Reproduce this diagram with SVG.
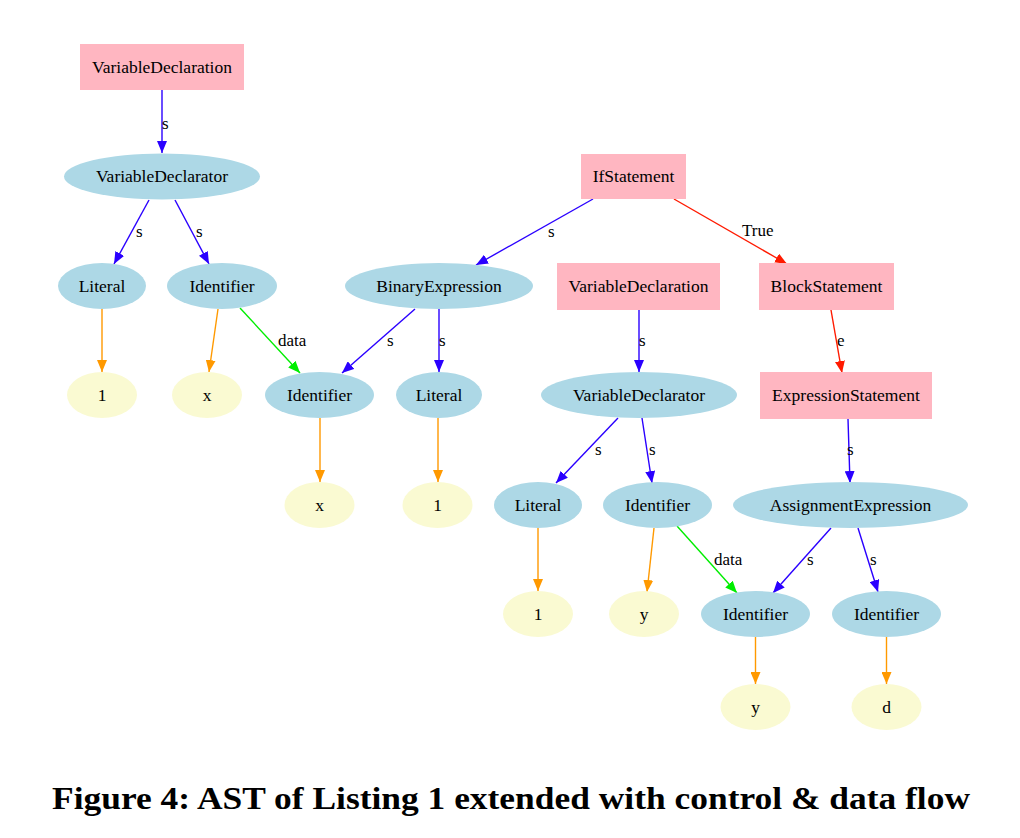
<svg xmlns="http://www.w3.org/2000/svg" width="1020" height="838" viewBox="0 0 1020 838">
<style>
.rect{fill:#ffb6c1}
.ell{fill:#add8e6}
.leaf{fill:#fafad2}
.t{font-family:"Liberation Serif","Times New Roman",serif;font-size:17.5px;fill:#000;text-anchor:middle}
.lb{font-family:"Liberation Serif","Times New Roman",serif;font-size:17px;fill:#000}
.e{fill:none;stroke-width:1.4}
.b{stroke:#2a00ff;marker-end:url(#ab)}
.o{stroke:#ff9900;marker-end:url(#ao)}
.g{stroke:#00ee00;marker-end:url(#ag)}
.r{stroke:#ff1a00;marker-end:url(#ar)}
.cap{font-family:"Liberation Serif","Times New Roman",serif;font-size:31px;font-weight:bold;fill:#000}
</style>
<defs>
<marker id="ab" markerUnits="userSpaceOnUse" markerWidth="12" markerHeight="10" refX="12" refY="5" orient="auto"><path d="M0,0 L12,5 L0,10 z" fill="#2a00ff"/></marker>
<marker id="ao" markerUnits="userSpaceOnUse" markerWidth="12" markerHeight="10" refX="12" refY="5" orient="auto"><path d="M0,0 L12,5 L0,10 z" fill="#ff9900"/></marker>
<marker id="ag" markerUnits="userSpaceOnUse" markerWidth="12" markerHeight="10" refX="12" refY="5" orient="auto"><path d="M0,0 L12,5 L0,10 z" fill="#00ee00"/></marker>
<marker id="ar" markerUnits="userSpaceOnUse" markerWidth="12" markerHeight="10" refX="12" refY="5" orient="auto"><path d="M0,0 L12,5 L0,10 z" fill="#ff1a00"/></marker>
</defs>
<rect width="1020" height="838" fill="#ffffff"/>
<g id="edges">
<line class="e b" x1="162" y1="90" x2="162" y2="153"/><text class="lb" x="162" y="129">s</text>
<line class="e b" x1="149" y1="200" x2="114" y2="264"/><text class="lb" x="136" y="237">s</text>
<line class="e b" x1="175" y1="200" x2="209" y2="264"/><text class="lb" x="196" y="237">s</text>
<line class="e o" x1="102" y1="309" x2="102" y2="372"/>
<line class="e o" x1="218" y1="309" x2="209" y2="372"/>
<line class="e g" x1="240" y1="308" x2="300" y2="373"/><text class="lb" x="278" y="346">data</text>
<line class="e b" x1="593" y1="199" x2="476" y2="265"/><text class="lb" x="548" y="237">s</text>
<line class="e r" x1="674" y1="199" x2="787" y2="264"/><text class="lb" x="742" y="236">True</text>
<line class="e b" x1="415" y1="309" x2="342" y2="373"/><text class="lb" x="387" y="346">s</text>
<line class="e b" x1="439" y1="309" x2="439" y2="372"/><text class="lb" x="439" y="346">s</text>
<line class="e b" x1="639" y1="310" x2="639" y2="372"/><text class="lb" x="639" y="346">s</text>
<line class="e r" x1="831" y1="310" x2="842" y2="373"/><text class="lb" x="837" y="346">e</text>
<line class="e o" x1="320" y1="418" x2="320" y2="482"/>
<line class="e o" x1="438" y1="418" x2="438" y2="482"/>
<line class="e b" x1="618" y1="418" x2="556" y2="483"/><text class="lb" x="595" y="455">s</text>
<line class="e b" x1="642" y1="418" x2="652" y2="483"/><text class="lb" x="649" y="455">s</text>
<line class="e b" x1="848" y1="419" x2="850" y2="483"/><text class="lb" x="847" y="455">s</text>
<line class="e o" x1="538" y1="528" x2="538" y2="591"/>
<line class="e o" x1="654" y1="528" x2="647" y2="592"/>
<line class="e g" x1="677" y1="526" x2="737" y2="593"/><text class="lb" x="714" y="565">data</text>
<line class="e b" x1="831" y1="528" x2="773" y2="593"/><text class="lb" x="807" y="565">s</text>
<line class="e b" x1="858" y1="528" x2="878" y2="592"/><text class="lb" x="870" y="565">s</text>
<line class="e o" x1="755.5" y1="637" x2="755.5" y2="684"/>
<line class="e o" x1="886.5" y1="637" x2="886.5" y2="684"/>
</g>
<g id="n1"><rect class="rect" x="80" y="44" width="164" height="46"/><text class="t" x="162" y="73">VariableDeclaration</text></g>
<g id="n2"><ellipse class="ell" cx="162" cy="176.5" rx="98" ry="23"/><text class="t" x="162" y="182">VariableDeclarator</text></g>
<g id="n3"><ellipse class="ell" cx="102" cy="286" rx="44" ry="23"/><text class="t" x="102" y="292">Literal</text></g>
<g id="n4"><ellipse class="ell" cx="222" cy="286" rx="55" ry="23"/><text class="t" x="222" y="292">Identifier</text></g>
<g id="n5"><ellipse class="leaf" cx="102" cy="395" rx="35" ry="23"/><text class="t" x="102" y="401">1</text></g>
<g id="n6"><ellipse class="leaf" cx="207" cy="395" rx="35" ry="23"/><text class="t" x="207" y="401">x</text></g>
<g id="n7"><ellipse class="ell" cx="319.5" cy="395" rx="54.5" ry="23"/><text class="t" x="319.5" y="401">Identifier</text></g>
<g id="n8"><ellipse class="ell" cx="439" cy="395" rx="43" ry="23"/><text class="t" x="439" y="401">Literal</text></g>
<g id="n9"><ellipse class="leaf" cx="319.5" cy="505" rx="35" ry="23"/><text class="t" x="319.5" y="511">x</text></g>
<g id="n10"><ellipse class="leaf" cx="437.5" cy="505" rx="35" ry="23"/><text class="t" x="437.5" y="511">1</text></g>
<g id="n11"><rect class="rect" x="581" y="154" width="105" height="45"/><text class="t" x="633.5" y="182">IfStatement</text></g>
<g id="n12"><ellipse class="ell" cx="439" cy="286" rx="94" ry="23"/><text class="t" x="439" y="292">BinaryExpression</text></g>
<g id="n13"><rect class="rect" x="557" y="263" width="163" height="47"/><text class="t" x="638.5" y="292">VariableDeclaration</text></g>
<g id="n14"><rect class="rect" x="759" y="263" width="135" height="47"/><text class="t" x="826.5" y="292">BlockStatement</text></g>
<g id="n15"><ellipse class="ell" cx="639" cy="395" rx="98" ry="23"/><text class="t" x="639" y="401">VariableDeclarator</text></g>
<g id="n16"><rect class="rect" x="760" y="372" width="172" height="47"/><text class="t" x="846" y="401">ExpressionStatement</text></g>
<g id="n17"><ellipse class="ell" cx="538" cy="505" rx="44" ry="23"/><text class="t" x="538" y="511">Literal</text></g>
<g id="n18"><ellipse class="ell" cx="657.5" cy="505" rx="54.5" ry="23"/><text class="t" x="657.5" y="511">Identifier</text></g>
<g id="n19"><ellipse class="ell" cx="850.5" cy="505" rx="117.5" ry="23"/><text class="t" x="850.5" y="511">AssignmentExpression</text></g>
<g id="n20"><ellipse class="leaf" cx="538" cy="614" rx="35" ry="23"/><text class="t" x="538" y="620">1</text></g>
<g id="n21"><ellipse class="leaf" cx="644" cy="614" rx="35" ry="23"/><text class="t" x="644" y="620">y</text></g>
<g id="n22"><ellipse class="ell" cx="755.5" cy="614" rx="54.5" ry="23"/><text class="t" x="755.5" y="620">Identifier</text></g>
<g id="n23"><ellipse class="ell" cx="886.5" cy="614" rx="54.5" ry="23"/><text class="t" x="886.5" y="620">Identifier</text></g>
<g id="n24"><ellipse class="leaf" cx="755.5" cy="707" rx="35" ry="23"/><text class="t" x="755.5" y="713">y</text></g>
<g id="n25"><ellipse class="leaf" cx="886.5" cy="707" rx="35" ry="23"/><text class="t" x="886.5" y="713">d</text></g>
<text class="cap" x="52" y="809" textLength="918" lengthAdjust="spacingAndGlyphs">Figure 4: AST of Listing 1 extended with control &amp; data flow</text>
</svg>
